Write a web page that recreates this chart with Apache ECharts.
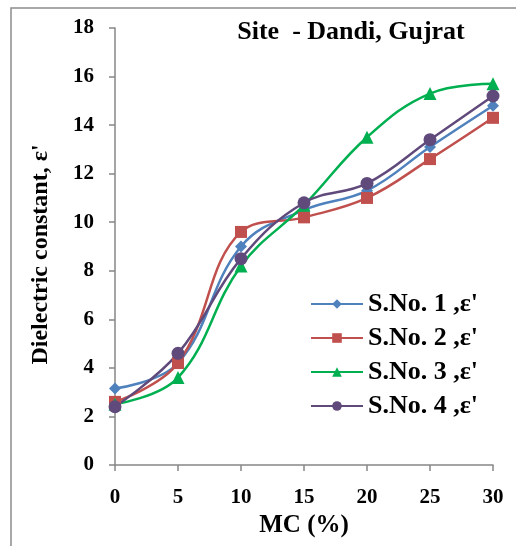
<!DOCTYPE html>
<html>
<head>
<meta charset="utf-8">
<script src="https://cdn.jsdelivr.net/npm/echarts@6/dist/echarts.min.js"></script>
<style>
  html, body { margin: 0; padding: 0; background: #fff; }
  #chart { width: 516px; height: 546px; }
</style>
</head>
<body>
<div id="chart"></div>
<script>
// Moisture content (%) on the x axis
const mc = [0, 5, 10, 15, 20, 25, 30];
// Dielectric constant ε' for each soil sample
const sample1 = [3.15, 4.2, 9.0, 10.5, 11.3, 13.1, 14.8];
const sample2 = [2.6, 4.2, 9.6, 10.2, 11.0, 12.6, 14.3];
const sample3 = [2.5, 3.6, 8.2, 10.7, 13.5, 15.3, 15.7];
const sample4 = [2.4, 4.6, 8.5, 10.8, 11.6, 13.4, 15.2];
const seriesNames = ["S.No. 1 ,ε'", "S.No. 2 ,ε'", "S.No. 3 ,ε'", "S.No. 4 ,ε'"];

const font = 'Liberation Serif';
const axisGray = '#868686';

function pairs(ys) { return mc.map((x, i) => [x, ys[i]]); }

function line(name, ys, color, symbol, size) {
  return {
    name: name,
    type: 'line',
    data: pairs(ys),
    smooth: 0.4,
    symbol: symbol,
    symbolSize: size,
    showAllSymbol: true,
    lineStyle: { color: color, width: 2.5 },
    itemStyle: { color: color },
    z: 3
  };
}

const chart = echarts.init(document.getElementById('chart'));
chart.setOption({
  animation: false,
  backgroundColor: '#fff',
  graphic: [{
    type: 'rect',
    shape: { x: 11, y: 8, width: 540, height: 580 },
    style: { fill: 'none', stroke: '#8c8c8c', lineWidth: 1.5 },
    silent: true
  }],
  title: {
    text: 'Site  - Dandi, Gujrat',
    left: 346,
    top: 14,
    textAlign: 'center',
    textStyle: { fontFamily: font, fontWeight: 'bold', fontSize: 26, color: '#000' }
  },
  grid: { left: 115, right: 23, top: 28, bottom: 81 },
  xAxis: {
    type: 'value',
    min: 0, max: 30, interval: 5,
    name: 'MC (%)',
    nameLocation: 'middle',
    nameGap: 45,
    nameTextStyle: { fontFamily: font, fontWeight: 'bold', fontSize: 25, color: '#000' },
    axisLine: { show: true, lineStyle: { color: axisGray, width: 1.5 } },
    axisTick: { show: true, length: 6, lineStyle: { color: axisGray, width: 1.5 } },
    axisLabel: { fontFamily: font, fontWeight: 'bold', fontSize: 21, color: '#000', margin: 22 },
    splitLine: { show: false }
  },
  yAxis: {
    type: 'value',
    min: 0, max: 18, interval: 2,
    name: "Dielectric constant, ε'",
    nameLocation: 'middle',
    nameGap: 62,
    nameRotate: 90,
    nameTextStyle: {
      fontFamily: font, fontWeight: 'bold', fontSize: 24, color: '#000',
      padding: [0, 16, 0, 0]
    },
    axisLine: { show: true, lineStyle: { color: axisGray, width: 1.5 } },
    axisTick: { show: true, length: 6, lineStyle: { color: axisGray, width: 1.5 } },
    axisLabel: { fontFamily: font, fontWeight: 'bold', fontSize: 21, color: '#000', margin: 21 },
    splitLine: { show: false }
  },
  legend: {
    orient: 'vertical',
    left: 305,
    top: 286,
    itemWidth: 52,
    itemHeight: 12,
    itemGap: 8,
    textStyle: { fontFamily: font, fontWeight: 'bold', fontSize: 26, color: '#000' },
    data: seriesNames
  },
  series: [
    line(seriesNames[0], sample1, '#4F81BD', 'diamond', 12),
    line(seriesNames[1], sample2, '#C0504D', 'rect', 12),
    line(seriesNames[2], sample3, '#00B050', 'triangle', 13),
    line(seriesNames[3], sample4, '#604A7B', 'circle', 13)
  ]
});
</script>
</body>
</html>
